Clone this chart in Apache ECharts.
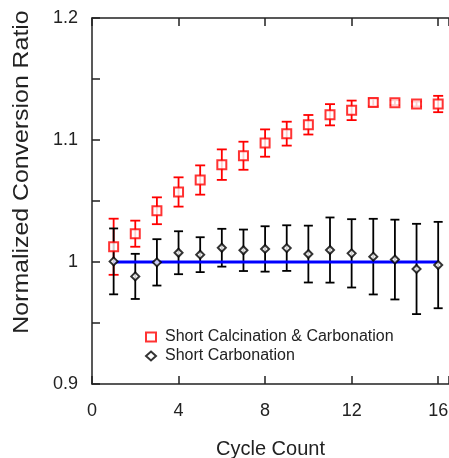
<!DOCTYPE html>
<html>
<head>
<meta charset="utf-8">
<script src="https://cdn.jsdelivr.net/npm/echarts@6/dist/echarts.min.js"></script>
<style>
html,body{margin:0;padding:0;background:#fff;}
#chart{width:449px;height:458px;}
</style>
</head>
<body>
<div id="chart"></div>
<script>
var cycles = [1,2,3,4,5,6,7,8,9,10,11,12,13,14,15,16];
var calcMean = [1.0125,1.0232,1.042,1.0574,1.0672,1.0798,1.0871,1.0975,1.1052,1.1125,1.1207,1.1243,1.1308,1.1306,1.1295,1.1295];
var calcErr  = [0.023,0.0107,0.011,0.012,0.012,0.0125,0.0115,0.0112,0.0098,0.008,0.0087,0.008,0.003,0.002,0.002,0.0067];
var carbMean = [1.0005,0.9882,0.9997,1.0076,1.006,1.0117,1.0096,1.0107,1.0114,1.0065,1.0098,1.0071,1.0044,1.002,0.9943,0.9975];
var carbErr  = [0.027,0.0185,0.019,0.0176,0.0143,0.0155,0.017,0.0186,0.0187,0.0233,0.0267,0.028,0.031,0.0327,0.037,0.0354];
var baseline = [[1,1],[16,1]];
var xTicks = [0,4,8,12,16];
var yTicks = [0.9,1,1.1,1.2];
var seriesNames = ['Short Calcination & Carbonation','Short Carbonation'];
var yTitle = 'Normalized Conversion Ratio';

function errData(mean, err){
  return cycles.map(function(c,i){ return [c, mean[i]-err[i], mean[i]+err[i]]; });
}
function errRender(color, capW){
  return function(params, api){
    var x = api.value(0);
    var lo = api.coord([x, api.value(1)]);
    var hi = api.coord([x, api.value(2)]);
    var st = {stroke: color, lineWidth: 1.8, fill: null};
    return {type:'group', children:[
      {type:'line', shape:{x1:lo[0],y1:lo[1],x2:hi[0],y2:hi[1]}, style:st},
      {type:'line', shape:{x1:lo[0]-capW/2,y1:lo[1],x2:lo[0]+capW/2,y2:lo[1]}, style:st},
      {type:'line', shape:{x1:hi[0]-capW/2,y1:hi[1],x2:hi[0]+capW/2,y2:hi[1]}, style:st}
    ]};
  };
}
var txt = '#222';
var ff = 'Liberation Sans, Arial, sans-serif';
var chart = echarts.init(document.getElementById('chart'), null, {renderer:'canvas'});
chart.setOption({
  backgroundColor:'#fff',
  animation:false,
  grid:{left:92, right:0, top:18, bottom:74, containLabel:false, outerBoundsMode:'none'},
  legend:{
    orient:'vertical', left:140, top:324, itemWidth:10, itemHeight:9, itemGap:3,
    data: seriesNames,
    textStyle:{fontFamily:ff, fontSize:16, color:txt, padding:[0,0,0,4]}
  },
  graphic:[{
    type:'text', z:10,
    x:22, y:172, rotation:Math.PI/2, scaleX:1.13,
    style:{text:yTitle, fontFamily:ff, fontSize:22, fill:txt, align:'center', verticalAlign:'middle'}
  }],
  xAxis:[{
    type:'value', min:0, max:16.5, interval:4, position:'bottom',
    name:'Cycle Count', nameLocation:'middle', nameGap:55,
    nameTextStyle:{fontFamily:ff, fontSize:20, color:txt},
    axisLine:{show:true, onZero:false, lineStyle:{color:'#222', width:1.5}},
    axisTick:{show:true, inside:true, length:8, lineStyle:{color:'#222', width:1.5}},
    axisLabel:{fontFamily:ff, fontSize:18, color:txt, margin:18,
      formatter:function(v){ return xTicks.indexOf(v) >= 0 ? String(v) : ''; }},
    splitLine:{show:false}
  },{
    type:'value', min:0, max:16.5, interval:4, position:'top',
    axisLine:{show:true, onZero:false, lineStyle:{color:'#222', width:1.5}},
    axisTick:{show:true, inside:true, length:8, lineStyle:{color:'#222', width:1.5}},
    axisLabel:{show:false}, splitLine:{show:false}
  }],
  yAxis:{
    type:'value', min:0.9, max:1.2, interval:0.05,
    axisLine:{show:true, onZero:false, lineStyle:{color:'#222', width:1.5}},
    axisTick:{show:true, inside:true, length:8, lineStyle:{color:'#222', width:1.5}},
    axisLabel:{fontFamily:ff, fontSize:18, color:txt, margin:14, padding:[2,0,0,0],
      formatter:function(v){
        for (var i=0;i<yTicks.length;i++){ if (Math.abs(v-yTicks[i])<1e-6) return String(yTicks[i]); }
        return '';
      }},
    splitLine:{show:false}
  },
  series:[
    {type:'custom', name:'calcErr', data:errData(calcMean, calcErr), renderItem:errRender('#ff0000', 10), encode:{x:0,y:[1,2]}, z:2},
    {type:'custom', name:'carbErr', data:errData(carbMean, carbErr), renderItem:errRender('#000000', 9), encode:{x:0,y:[1,2]}, z:2},
    {type:'line', name:'baseline', data:baseline, symbol:'none', lineStyle:{color:'#0000ff', width:3}, z:3},
    {type:'scatter', name:seriesNames[0], data:cycles.map(function(c,i){return [c, calcMean[i]];}),
      symbol:'rect', symbolSize:9, itemStyle:{color:'#fff', borderColor:'#ff0000', borderWidth:2}, z:5},
    {type:'scatter', name:seriesNames[1], data:cycles.map(function(c,i){return [c, carbMean[i]];}),
      symbol:'diamond', symbolSize:8, itemStyle:{color:'#fff', borderColor:'#000000', borderWidth:2}, z:5}
  ]
});
</script>
</body>
</html>
